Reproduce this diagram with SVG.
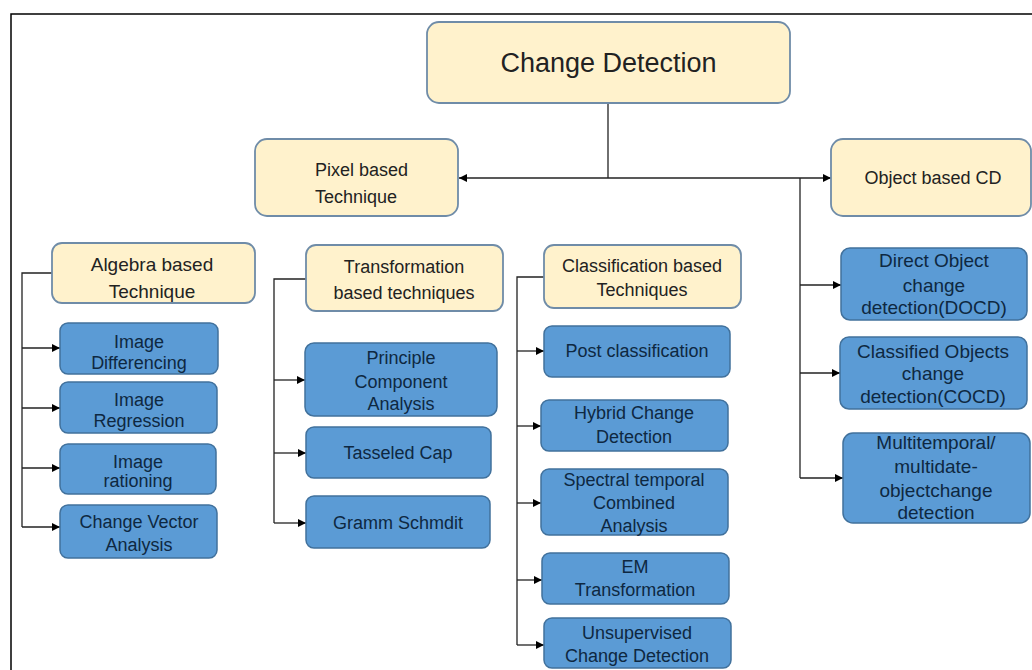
<svg xmlns="http://www.w3.org/2000/svg" width="1032" height="670" viewBox="0 0 1032 670">
<defs>
<style>
.cream{fill:#FFF2CC;stroke:#6F8CA8;stroke-width:1.8}
.blue{fill:#5B9BD5;stroke:#41719C;stroke-width:1.5}
text{font-family:"Liberation Sans",Arial,sans-serif;font-size:18px;text-anchor:middle}
.tc{fill:#222222}
.tb{fill:#0E2841}
.conn{stroke:#222222;stroke-width:1.3;fill:none}
.frame{stroke:#000000;stroke-width:1.5;fill:none}
</style>
<marker id="arr" viewBox="0 0 8 8" refX="8" refY="4" markerWidth="8" markerHeight="8" markerUnits="userSpaceOnUse" orient="auto">
<path d="M0,0 L8,4 L0,8 z" fill="#000"/>
</marker>
</defs>
<rect width="1032" height="670" fill="#ffffff"/>
<path class="frame" d="M11,670 V14 H1032"/>

<g id="connectors">
<path class="conn" d="M608,103 V178"/>
<path class="conn" d="M608,178 H459" marker-end="url(#arr)"/>
<path class="conn" d="M608,178 H831" marker-end="url(#arr)"/>
<path class="conn" d="M800,178 V478"/>
<path class="conn" d="M800,285 H841" marker-end="url(#arr)"/>
<path class="conn" d="M800,373 H840" marker-end="url(#arr)"/>
<path class="conn" d="M800,478 H843" marker-end="url(#arr)"/>
<path class="conn" d="M52,273 H22 V527"/>
<path class="conn" d="M22,348 H60" marker-end="url(#arr)"/>
<path class="conn" d="M22,408 H60" marker-end="url(#arr)"/>
<path class="conn" d="M22,468 H60" marker-end="url(#arr)"/>
<path class="conn" d="M22,527 H60" marker-end="url(#arr)"/>
<path class="conn" d="M306,279 H274 V523"/>
<path class="conn" d="M274,380 H305" marker-end="url(#arr)"/>
<path class="conn" d="M274,453 H306" marker-end="url(#arr)"/>
<path class="conn" d="M274,523 H306" marker-end="url(#arr)"/>
<path class="conn" d="M544,277 H517 V645"/>
<path class="conn" d="M517,351 H544" marker-end="url(#arr)"/>
<path class="conn" d="M517,426 H541" marker-end="url(#arr)"/>
<path class="conn" d="M517,503 H541" marker-end="url(#arr)"/>
<path class="conn" d="M517,580 H542" marker-end="url(#arr)"/>
<path class="conn" d="M517,645 H544" marker-end="url(#arr)"/>
</g>

<g id="change-detection">
<rect class="cream" x="427" y="22" width="363" height="81" rx="12"/>
<text class="tc" x="608.5" y="72" style="font-size:27px">Change Detection</text>
</g>
<g id="pixel-based">
<rect class="cream" x="255" y="139" width="203" height="77" rx="12"/>
<text class="tc" x="315" y="176" style="text-anchor:start">Pixel based</text>
<text class="tc" x="315" y="203" style="text-anchor:start">Technique</text>
</g>
<g id="object-based">
<rect class="cream" x="831" y="139" width="200" height="77" rx="12"/>
<text class="tc" x="933" y="184">Object based CD</text>
</g>

<g id="algebra">
<rect class="cream" x="52" y="243" width="203" height="60" rx="10"/>
<text class="tc" x="152" y="271" style="font-size:19px">Algebra based</text>
<text class="tc" x="152" y="298" style="font-size:19px">Technique</text>
</g>
<g id="image-differencing">
<rect class="blue" x="60" y="323" width="158" height="51" rx="8"/>
<text class="tb" x="139" y="348">Image</text>
<text class="tb" x="139" y="369">Differencing</text>
</g>
<g id="image-regression">
<rect class="blue" x="60" y="382" width="157" height="51" rx="8"/>
<text class="tb" x="139" y="406">Image</text>
<text class="tb" x="139" y="427">Regression</text>
</g>
<g id="image-rationing">
<rect class="blue" x="60" y="444" width="156" height="50" rx="8"/>
<text class="tb" x="138" y="468">Image</text>
<text class="tb" x="138" y="487">rationing</text>
</g>
<g id="change-vector">
<rect class="blue" x="60" y="505" width="157" height="53" rx="8"/>
<text class="tb" x="139" y="528">Change Vector</text>
<text class="tb" x="139" y="551">Analysis</text>
</g>

<g id="transformation">
<rect class="cream" x="306" y="245" width="197" height="66" rx="10"/>
<text class="tc" x="404" y="273">Transformation</text>
<text class="tc" x="404" y="299">based techniques</text>
</g>
<g id="pca">
<rect class="blue" x="305" y="343" width="192" height="73" rx="9"/>
<text class="tb" x="401" y="364">Principle</text>
<text class="tb" x="401" y="388">Component</text>
<text class="tb" x="401" y="410">Analysis</text>
</g>
<g id="tasseled-cap">
<rect class="blue" x="306" y="427" width="185" height="51" rx="8"/>
<text class="tb" x="398" y="459">Tasseled Cap</text>
</g>
<g id="gramm-schmdit">
<rect class="blue" x="306" y="496" width="184" height="52" rx="8"/>
<text class="tb" x="398" y="529">Gramm Schmdit</text>
</g>

<g id="classification">
<rect class="cream" x="544" y="245" width="197" height="63" rx="10"/>
<text class="tc" x="642" y="272">Classification based</text>
<text class="tc" x="642" y="296">Techniques</text>
</g>
<g id="post-classification">
<rect class="blue" x="544" y="326" width="186" height="51" rx="8"/>
<text class="tb" x="637" y="357">Post classification</text>
</g>
<g id="hybrid">
<rect class="blue" x="541" y="400" width="187" height="51" rx="8"/>
<text class="tb" x="634" y="419">Hybrid Change</text>
<text class="tb" x="634" y="443">Detection</text>
</g>
<g id="spectral">
<rect class="blue" x="541" y="469" width="187" height="66" rx="8"/>
<text class="tb" x="634" y="486">Spectral temporal</text>
<text class="tb" x="634" y="509">Combined</text>
<text class="tb" x="634" y="532">Analysis</text>
</g>
<g id="em">
<rect class="blue" x="542" y="553" width="187" height="51" rx="8"/>
<text class="tb" x="635" y="573">EM</text>
<text class="tb" x="635" y="596">Transformation</text>
</g>
<g id="unsupervised">
<rect class="blue" x="544" y="618" width="187" height="50" rx="8"/>
<text class="tb" x="637" y="639">Unsupervised</text>
<text class="tb" x="637" y="662">Change Detection</text>
</g>

<g id="docd">
<rect class="blue" x="841" y="248" width="186" height="72" rx="9"/>
<text class="tb" x="934" y="267" style="font-size:19px">Direct Object</text>
<text class="tb" x="934" y="292" style="font-size:19px">change</text>
<text class="tb" x="934" y="314" style="font-size:19px">detection(DOCD)</text>
</g>
<g id="cocd">
<rect class="blue" x="840" y="337" width="187" height="72" rx="9"/>
<text class="tb" x="933" y="358" style="font-size:19px">Classified Objects</text>
<text class="tb" x="933" y="380" style="font-size:19px">change</text>
<text class="tb" x="933" y="403" style="font-size:19px">detection(COCD)</text>
</g>
<g id="multitemporal">
<rect class="blue" x="843" y="433" width="187" height="90" rx="10"/>
<text class="tb" x="936" y="449" style="font-size:19px">Multitemporal/</text>
<text class="tb" x="936" y="473" style="font-size:19px">multidate-</text>
<text class="tb" x="936" y="497" style="font-size:19px">objectchange</text>
<text class="tb" x="936" y="519" style="font-size:19px">detection</text>
</g>
</svg>
